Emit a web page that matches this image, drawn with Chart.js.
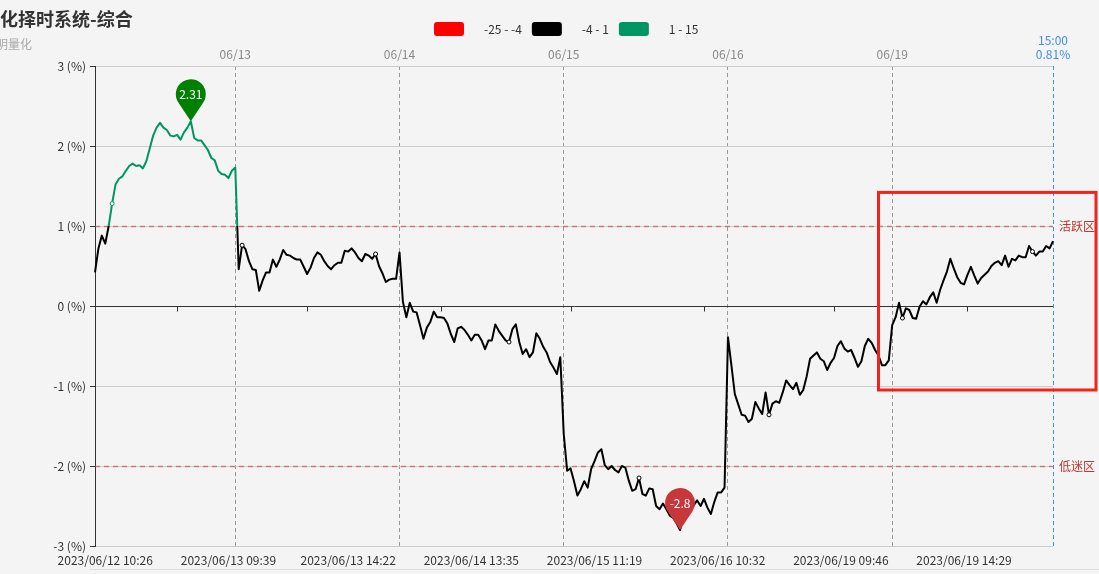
<!DOCTYPE html>
<html><head><meta charset="utf-8">
<script src="https://cdn.jsdelivr.net/npm/chart.js@4.4.0/dist/chart.umd.min.js"></script>
<style>html,body{margin:0;padding:0;background:#f4f4f4;overflow:hidden}canvas{display:block}</style>
</head><body>
<canvas id="c" width="1099" height="574"></canvas>
<script>
const FONT = '"Noto Sans CJK SC", "Microsoft YaHei", sans-serif';

const titleText = '量化择时系统-综合';
const subtitleText = '明量化';

// 收益率 (%) series
const values = [
  0.42, 0.72, 0.88, 0.78, 1.00, 1.28, 1.52, 1.59, 1.62, 1.69,
  1.75, 1.78, 1.75, 1.76, 1.72, 1.81, 1.97, 2.13, 2.23, 2.29,
  2.23, 2.20, 2.13, 2.12, 2.14, 2.08, 2.17, 2.23, 2.31, 2.10,
  2.07, 2.07, 2.01, 1.95, 1.85, 1.82, 1.69, 1.65, 1.64, 1.60,
  1.69, 1.73, 0.46, 0.76, 0.71, 0.56, 0.46, 0.45, 0.19, 0.32,
  0.42, 0.42, 0.58, 0.49, 0.58, 0.70, 0.64, 0.63, 0.60, 0.58,
  0.58, 0.49, 0.40, 0.48, 0.60, 0.67, 0.64, 0.56, 0.50, 0.46,
  0.51, 0.54, 0.54, 0.69, 0.68, 0.72, 0.67, 0.60, 0.56, 0.65,
  0.63, 0.59, 0.65, 0.50, 0.41, 0.30, 0.33, 0.34, 0.34, 0.67,
  0.05, -0.14, 0.04, -0.07, -0.08, -0.24, -0.41, -0.27, -0.20, -0.07,
  -0.14, -0.14, -0.15, -0.22, -0.35, -0.45, -0.28, -0.26, -0.30, -0.36,
  -0.43, -0.36, -0.36, -0.43, -0.54, -0.43, -0.43, -0.23, -0.31, -0.37,
  -0.43, -0.45, -0.29, -0.23, -0.45, -0.60, -0.54, -0.64, -0.58, -0.34,
  -0.41, -0.51, -0.58, -0.70, -0.77, -0.85, -0.64, -1.60, -2.06, -2.03,
  -2.19, -2.37, -2.29, -2.19, -2.27, -2.04, -1.94, -1.83, -1.79, -1.99,
  -2.04, -2.00, -2.05, -2.08, -2.00, -2.02, -2.18, -2.31, -2.29, -2.15,
  -2.35, -2.37, -2.28, -2.29, -2.50, -2.54, -2.47, -2.54, -2.62, -2.65,
  -2.72, -2.80, -2.61, -2.56, -2.50, -2.49, -2.43, -2.50, -2.41, -2.52,
  -2.60, -2.45, -2.33, -2.33, -2.27, -0.39, -0.74, -1.10, -1.23, -1.36,
  -1.37, -1.45, -1.41, -1.20, -1.28, -1.35, -1.08, -1.36, -1.22, -1.19,
  -1.21, -1.08, -0.93, -0.99, -1.04, -0.96, -1.11, -1.05, -0.88, -0.66,
  -0.62, -0.58, -0.66, -0.69, -0.80, -0.71, -0.65, -0.50, -0.44, -0.53,
  -0.57, -0.55, -0.65, -0.76, -0.69, -0.50, -0.41, -0.46, -0.55, -0.62,
  -0.74, -0.74, -0.68, -0.24, -0.14, 0.04, -0.15, -0.03, -0.05, -0.15,
  -0.16, -0.01, 0.06, 0.02, 0.11, 0.17, 0.04, 0.20, 0.32, 0.43,
  0.59, 0.47, 0.36, 0.29, 0.27, 0.39, 0.49, 0.38, 0.28, 0.35,
  0.39, 0.43, 0.50, 0.54, 0.56, 0.51, 0.63, 0.49, 0.59, 0.57,
  0.63, 0.61, 0.61, 0.75, 0.68, 0.63, 0.68, 0.68, 0.75, 0.72, 0.81
];

const dayLabels = ['06/13', '06/14', '06/15', '06/16', '06/19'];
const dayStartIdx = [41, 89, 137, 185, 233];
const closeLabel = ['15:00', '0.81%'];

const bottomLabels = ['2023/06/12 10:26', '2023/06/13 09:39', '2023/06/13 14:22', '2023/06/14 13:35',
                      '2023/06/15 11:19', '2023/06/16 10:32', '2023/06/19 09:46', '2023/06/19 14:29'];
const bottomLabelIdx = [3, 39, 74, 110, 146, 182, 218, 254];

const zeroTickIdx = [24, 62, 101, 139, 178, 216, 255];
const symbolIdx = [5, 43, 82, 121, 159, 197, 236, 274];

const markLevels = [1, -2];
const markNames = ['活跃区', '低迷区'];

const pieceLabels = ['-25 - -4', '-4 - 1', '1 - 15'];
const pieceMin = [-25, -4, 1];
const pieceMax = [-4, 1, 15];
const pieceColors = ['#ff0000', '#000000', '#009664'];

const highlightFromIdx = 229;
const highlightTop = 1.42;
const highlightBottom = -1.05;

const categories = values.map((v, i) => String(i));
const lastIdx = values.length - 1;

function colorForValue(v) {
  for (let k = 0; k < pieceMin.length; k++) {
    if (v >= pieceMin[k] && v <= pieceMax[k]) return pieceColors[k];
  }
  return '#000';
}

function lineGradient(ctx) {
  const chart = ctx.chart;
  const a = chart.chartArea;
  if (!a) return '#000';
  const y = chart.scales.y;
  const g = chart.ctx.createLinearGradient(0, a.top, 0, a.bottom);
  const h = a.bottom - a.top;
  const clamp = (t) => Math.max(0, Math.min(1, t));
  const o1 = clamp((y.getPixelForValue(pieceMin[2]) - a.top) / h);
  const o2 = clamp((y.getPixelForValue(pieceMin[1]) - a.top) / h);
  g.addColorStop(0, pieceColors[2]);
  g.addColorStop(o1, pieceColors[2]);
  g.addColorStop(o1, pieceColors[1]);
  g.addColorStop(o2, pieceColors[1]);
  g.addColorStop(o2, pieceColors[0]);
  g.addColorStop(1, pieceColors[0]);
  return g;
}

function drawPin(c, x, y, color, text) {
  const r = 15, d = 27;
  const cx = x, cy = y - d;
  const b = Math.acos(r / d);
  c.save();
  c.fillStyle = color;
  c.beginPath();
  c.moveTo(x, y);
  c.lineTo(cx + r * Math.cos(Math.PI / 2 + b), cy + r * Math.sin(Math.PI / 2 + b));
  c.arc(cx, cy, r, Math.PI / 2 + b, Math.PI / 2 - b + Math.PI * 2, false);
  c.closePath();
  c.fill();
  c.fillStyle = '#fff';
  c.font = '12px ' + FONT;
  c.textAlign = 'center';
  c.textBaseline = 'middle';
  c.fillText(text, cx, cy);
  c.restore();
}

const overlay = {
  id: 'overlay',
  beforeDatasetsDraw(chart) {
    const { ctx, chartArea: a, scales: { y } } = chart;
    ctx.save();
    ctx.setLineDash([5, 4]);
    ctx.lineWidth = 1.5;
    ctx.strokeStyle = 'rgba(200,60,60,0.6)';
    markLevels.forEach(v => {
      const py = Math.round(y.getPixelForValue(v)) + 0.5;
      ctx.beginPath(); ctx.moveTo(a.left, py); ctx.lineTo(a.right, py); ctx.stroke();
    });
    ctx.restore();
  },
  afterDatasetsDraw(chart) {
    const { ctx, chartArea: a, scales: { x, y } } = chart;
    // ticks on the zero axis
    ctx.save();
    ctx.strokeStyle = '#333';
    ctx.lineWidth = 1;
    const y0 = Math.round(y.getPixelForValue(0)) + 0.5;
    zeroTickIdx.forEach(i => {
      const px = Math.round(x.getPixelForValue(i)) + 0.5;
      ctx.beginPath(); ctx.moveTo(px, y0); ctx.lineTo(px, y0 + 5); ctx.stroke();
    });
    // mark line names
    ctx.fillStyle = '#c23531';
    ctx.font = '12px ' + FONT;
    ctx.textAlign = 'left';
    ctx.textBaseline = 'middle';
    markLevels.forEach((v, k) => ctx.fillText(markNames[k], a.right + 6, y.getPixelForValue(v)));
    ctx.restore();
    // max / min pins
    const vMax = Math.max(...values), vMin = Math.min(...values);
    const iMax = values.indexOf(vMax), iMin = values.indexOf(vMin);
    drawPin(ctx, x.getPixelForValue(iMax), y.getPixelForValue(vMax), '#008000', String(vMax));
    drawPin(ctx, x.getPixelForValue(iMin), y.getPixelForValue(vMin), '#c8383a', String(vMin));
    // highlight box
    ctx.save();
    ctx.strokeStyle = '#f5221b';
    ctx.lineWidth = 3;
    const lx = x.getPixelForValue(highlightFromIdx);
    const ty = y.getPixelForValue(highlightTop);
    const by = y.getPixelForValue(highlightBottom);
    ctx.strokeRect(lx, ty, chart.width - 3 - lx, by - ty);
    ctx.restore();
  },
  afterDraw(chart) {
    const { ctx } = chart;
    ctx.save();
    ctx.textBaseline = 'middle';
    ctx.textAlign = 'left';
    ctx.fillStyle = '#333';
    ctx.font = 'bold 18px ' + FONT;
    ctx.fillText(titleText, -18, 19);
    ctx.fillStyle = '#aaa';
    ctx.font = '12px ' + FONT;
    ctx.fillText(subtitleText, -4, 44);
    // legend
    let lx = 434;
    ctx.font = '12px ' + FONT;
    pieceLabels.forEach((t, k) => {
      ctx.fillStyle = pieceColors[k];
      ctx.beginPath();
      ctx.roundRect(lx, 22, 30, 14, 3);
      ctx.fill();
      ctx.fillStyle = '#333';
      ctx.fillText(t, lx + 50, 29);
      lx += 50 + ctx.measureText(t).width + 10;
    });
    // slider top line
    ctx.strokeStyle = '#ddd';
    ctx.lineWidth = 1;
    ctx.beginPath(); ctx.moveTo(90, 569.5); ctx.lineTo(chart.width, 569.5); ctx.stroke();
    ctx.restore();
  }
};

new Chart(document.getElementById('c'), {
  type: 'line',
  data: {
    labels: categories,
    datasets: [{
      data: values,
      xAxisID: 'x',
      yAxisID: 'y',
      borderColor: lineGradient,
      borderWidth: 2,
      tension: 0,
      borderJoinStyle: 'round',
      pointRadius: (ctx) => symbolIdx.includes(ctx.dataIndex) ? 2 : 0,
      pointBackgroundColor: '#fff',
      pointBorderColor: (ctx) => colorForValue(values[ctx.dataIndex]),
      pointBorderWidth: 1,
      fill: false
    }]
  },
  options: {
    responsive: false,
    devicePixelRatio: 1,
    animation: false,
    events: [],
    layout: { padding: { left: 0, right: 46, top: 0, bottom: 0 } },
    plugins: { legend: { display: false }, tooltip: { enabled: false }, title: { display: false } },
    scales: {
      x: {
        type: 'category',
        position: 'bottom',
        grid: { display: false, drawTicks: false },
        border: { display: false },
        ticks: {
          autoSkip: false, maxRotation: 0, minRotation: 0, padding: 7,
          color: '#333', font: { family: FONT, size: 12 },
          callback: (v, i) => { const k = bottomLabelIdx.indexOf(i); return k >= 0 ? bottomLabels[k] : ''; }
        },
        afterFit: (s) => { s.height = 28; }
      },
      xTop: {
        type: 'category',
        position: 'top',
        grid: {
          display: true, drawTicks: false, lineWidth: 1,
          color: (ctx) => ctx.index === lastIdx ? '#3d8ff0' : (dayStartIdx.includes(ctx.index) ? '#999' : 'rgba(0,0,0,0)')
        },
        border: { display: false, dash: [4, 3] },
        ticks: {
          autoSkip: false, maxRotation: 0, minRotation: 0, padding: 4,
          font: { family: FONT, size: 12 },
          color: (ctx) => ctx.index === lastIdx ? '#3d8ff0' : '#888',
          callback: (v, i) => {
            if (i === lastIdx) return closeLabel;
            const k = dayStartIdx.indexOf(i);
            return k >= 0 ? dayLabels[k] : '';
          }
        },
        afterFit: (s) => { s.height = 66; }
      },
      y: {
        min: -3, max: 3,
        ticks: { stepSize: 1, color: '#333', padding: 4, font: { family: FONT, size: 12 }, callback: (v) => v + ' (%)' },
        grid: { color: (ctx) => ctx.tick.value === 0 ? '#333' : '#ccc', tickColor: '#333', tickLength: 5, drawTicks: true },
        border: { display: true, color: '#333' },
        afterFit: (s) => { s.width = 95; }
      }
    }
  },
  plugins: [overlay]
});
</script>
</body></html>
